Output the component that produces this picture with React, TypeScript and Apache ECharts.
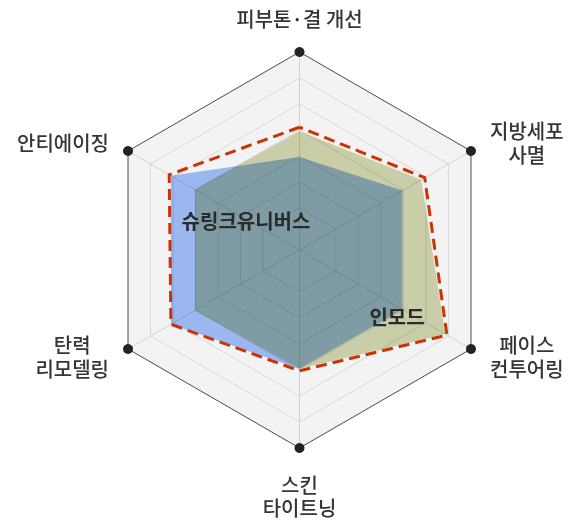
import React, { useEffect, useRef } from 'react';
import * as echarts from 'echarts';

// Indicators, listed clockwise from the top as they appear in the chart
const categories = ['피부톤·결 개선', '지방세포\n사멸', '페이스\n컨투어링', '스킨\n타이트닝', '탄력\n리모델링', '안티에이징'];
const seriesNames = ['슈링크유니버스', '인모드'];
const shrinkValues = [47, 60, 60, 60, 75, 75];
const inmodeValues = [60, 71, 85, 60, 61, 61];
const envelopeValues = [62, 73, 86, 61, 75, 76];
const frameValues = [100, 100, 100, 100, 100, 100];
const axisMin = 0;
const axisMax = 100;

// ECharts lays radar indicators out counter-clockwise; reorder to read clockwise
const order = [0, 5, 4, 3, 2, 1];
const reorder = <T,>(arr: T[]): T[] => order.map((i) => arr[i]);

const FONT = '"Noto Sans CJK KR", "Noto Sans", sans-serif';
const BLUE = '#a2c1fb';
const OLIVE = '#d3d9b0';
const CENTER = [299.5, 250];
const R = 198;

const baseText = { align: 'center', fontSize: 20, fontWeight: 500, color: '#353535', fontFamily: FONT };

// per-position label nudges (rich-text paddings), keyed by clockwise position
const labelStyle = (pos: number, line: number, lines: number) => {
  if (pos === 1 || pos === 5) return line === 0 ? 'u' : 'c'; // upper sides: a bit lower
  if (pos === 2 || pos === 4) return line === lines - 1 ? 'l' : 'c'; // lower sides: a bit higher
  if (pos === 3) return line === 0 ? 'b' : 'c'; // bottom: a bit lower
  return 'c';
};

export default function App() {
  const ref = useRef<HTMLDivElement>(null);
  useEffect(() => {
    if (!ref.current) return;
    const chart = echarts.init(ref.current, undefined, { renderer: 'svg' });
    const indicator = reorder(categories).map((name) => ({ name, min: axisMin, max: axisMax }));
    const option: any = {
      animation: false,
      radar: [
        {
          center: CENTER,
          radius: R,
          startAngle: 90,
          splitNumber: 1,
          shape: 'polygon',
          indicator,
          nameGap: 22,
          axisName: {
            show: true,
            fontFamily: FONT,
            formatter: (n: string) => {
              const pos = categories.indexOf(n);
              const lines = n.split('\n');
              return lines.map((l, i) => `{${labelStyle(pos, i, lines.length)}|${l}}`).join('\n');
            },
            rich: {
              c: { ...baseText, padding: [2, 0, 2, 0] },
              u: { ...baseText, padding: [7, 0, 2, 0] },
              l: { ...baseText, padding: [2, 0, 10, 0] },
              b: { ...baseText, padding: [4, 0, 2, 0] },
            },
          },
          splitLine: { lineStyle: { color: '#4a4a4a', width: 1 } },
          splitArea: { show: true, areaStyle: { color: ['#f3f3f3'] } },
          axisLine: { lineStyle: { color: '#d2d2d2', width: 1 } },
        },
        {
          center: CENTER,
          radius: [42, R],
          startAngle: 90,
          splitNumber: 6,
          shape: 'polygon',
          indicator,
          axisName: { show: false },
          axisLine: { show: false },
          splitArea: { show: false },
          splitLine: {
            lineStyle: {
              color: ['#d8d8d8', '#d8d8d8', '#d8d8d8', '#d8d8d8', '#d8d8d8', '#d8d8d8', 'rgba(0,0,0,0)'],
              width: 1,
            },
          },
        },
      ],
      series: [
        {
          type: 'radar',
          radarIndex: 0,
          symbol: 'none',
          lineStyle: { width: 0, opacity: 0 },
          areaStyle: { color: BLUE, opacity: 1 },
          data: [{ name: seriesNames[0], value: reorder(shrinkValues) }],
        },
        {
          type: 'radar',
          radarIndex: 0,
          symbol: 'none',
          lineStyle: { width: 0, opacity: 0 },
          areaStyle: { color: OLIVE, opacity: 1 },
          data: [{ name: seriesNames[1], value: reorder(inmodeValues) }],
        },
        {
          type: 'radar',
          radarIndex: 0,
          symbol: 'none',
          lineStyle: { color: '#cc3300', width: 3, type: [11, 6] },
          data: [{ name: 'envelope', value: reorder(envelopeValues) }],
        },
        {
          type: 'radar',
          radarIndex: 0,
          symbol: 'circle',
          symbolSize: 10,
          silent: true,
          itemStyle: { color: '#222222' },
          lineStyle: { width: 0, opacity: 0 },
          data: [{ name: 'frame', value: reorder(frameValues) }],
        },
      ],
      graphic: [
        {
          type: 'text',
          x: 246,
          y: 220,
          z: 100,
          style: {
            text: seriesNames[0],
            fontSize: 20,
            fontWeight: 'bold',
            fontFamily: FONT,
            fill: '#2b2b2b',
            align: 'center',
            verticalAlign: 'middle',
          },
        },
        {
          type: 'text',
          x: 397,
          y: 316,
          z: 100,
          style: {
            text: seriesNames[1],
            fontSize: 20,
            fontWeight: 'bold',
            fontFamily: FONT,
            fill: '#2b2b2b',
            align: 'center',
            verticalAlign: 'middle',
          },
        },
      ],
    };
    chart.setOption(option);
    const svg = ref.current.querySelector('svg');
    if (svg) {
      const targets = [BLUE, OLIVE, 'rgb(162,193,251)', 'rgb(211,217,176)'];
      svg.querySelectorAll('path').forEach((p) => {
        const f = (p.getAttribute('fill') || '').toLowerCase().replace(/\s/g, '');
        if (targets.includes(f)) (p as SVGElement).style.mixBlendMode = 'multiply';
      });
    }
    return () => chart.dispose();
  }, []);
  return (
    <div
      ref={ref}
      style={{ position: 'fixed', left: 0, top: 0, width: 580, height: 525, background: '#ffffff' }}
    />
  );
}
